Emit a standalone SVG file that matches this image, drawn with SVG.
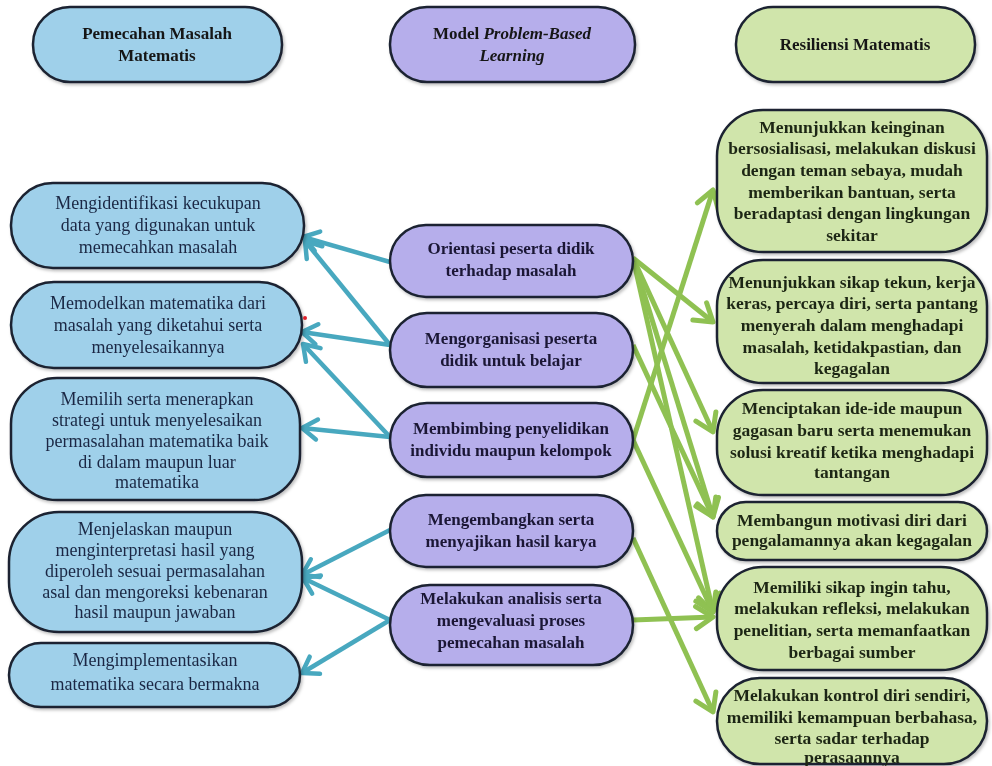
<svg xmlns="http://www.w3.org/2000/svg" width="992" height="766" viewBox="0 0 992 766">
<style>
.bl{fill:#9fd0ea;stroke:#1b2430;stroke-width:2.5}
.pu{fill:#b6aeeb;stroke:#1b2430;stroke-width:2.5}
.gr{fill:#d0e5ab;stroke:#1b2430;stroke-width:2.5}
text{font-family:"Liberation Serif","Times New Roman",serif;text-anchor:middle}
.h{font-size:17px;font-weight:bold;fill:#151515}
.tl{font-size:18px;fill:#1a2844}
.tm{font-size:17px;font-weight:bold;fill:#1a1836}
.tr{font-size:17.5px;font-weight:bold;fill:#1d2612}
.cb{fill:none;stroke:#48a8bf;stroke-width:4.5}
.cg{fill:none;stroke:#8fc152;stroke-width:5}
</style>
<defs>
<filter id="sh" x="-5%" y="-5%" width="112%" height="120%"><feDropShadow dx="1.5" dy="2" stdDeviation="1.5" flood-color="#000" flood-opacity="0.25"/></filter>
<marker id="ab" viewBox="-20 -14 24 28" refX="0" refY="0" markerWidth="24" markerHeight="28" markerUnits="userSpaceOnUse" orient="auto" overflow="visible"><path d="M-15,-10 L0,0 L-15,10" fill="none" stroke="#48a8bf" stroke-width="4.5" stroke-linecap="round" stroke-linejoin="round"/></marker>
<marker id="ag" viewBox="-20 -14 24 28" refX="0" refY="0" markerWidth="24" markerHeight="28" markerUnits="userSpaceOnUse" orient="auto" overflow="visible"><path d="M-17,-11 L0,0 L-17,11" fill="none" stroke="#8fc152" stroke-width="5" stroke-linecap="round" stroke-linejoin="round"/></marker>
</defs>

<g id="h-pemecahan" filter="url(#sh)"><rect class="bl" x="33" y="7" width="249" height="75" rx="37" ry="37"/>
<text class="h"><tspan x="157" y="39">Pemecahan Masalah</tspan><tspan x="157" y="61">Matematis</tspan></text></g>
<g id="h-pbl" filter="url(#sh)"><rect class="pu" x="390" y="7" width="245" height="75" rx="37" ry="37"/>
<text class="h"><tspan x="512" y="39">Model <tspan font-style="italic">Problem-Based</tspan></tspan><tspan x="512" y="61" font-style="italic">Learning</tspan></text></g>
<g id="h-resiliensi" filter="url(#sh)"><rect class="gr" x="736" y="7" width="239" height="75" rx="37" ry="37"/>
<text class="h"><tspan x="855" y="50">Resiliensi Matematis</tspan></text></g>

<g id="connectors">
<line class="cb" x1="390" y1="262" x2="303" y2="237" marker-end="url(#ab)"/>
<line class="cb" x1="390" y1="345" x2="305" y2="241" marker-end="url(#ab)"/>
<line class="cb" x1="390" y1="345" x2="302" y2="332" marker-end="url(#ab)"/>
<line class="cb" x1="390" y1="437" x2="303" y2="344" marker-end="url(#ab)"/>
<line class="cb" x1="390" y1="437" x2="302" y2="428" marker-end="url(#ab)"/>
<line class="cb" x1="390" y1="530" x2="302" y2="575" marker-end="url(#ab)"/>
<line class="cb" x1="390" y1="620" x2="303" y2="578" marker-end="url(#ab)"/>
<line class="cb" x1="390" y1="620" x2="302" y2="673" marker-end="url(#ab)"/>
<line class="cg" x1="633" y1="258" x2="713" y2="322" marker-end="url(#ag)"/>
<line class="cg" x1="633" y1="258" x2="713" y2="432" marker-end="url(#ag)"/>
<line class="cg" x1="633" y1="258" x2="713" y2="517" marker-end="url(#ag)"/>
<line class="cg" x1="633" y1="258" x2="713" y2="612" marker-end="url(#ag)"/>
<line class="cg" x1="633" y1="345" x2="713" y2="517" marker-end="url(#ag)"/>
<line class="cg" x1="633" y1="440" x2="713" y2="190" marker-end="url(#ag)"/>
<line class="cg" x1="633" y1="440" x2="713" y2="612" marker-end="url(#ag)"/>
<line class="cg" x1="633" y1="538" x2="713" y2="712" marker-end="url(#ag)"/>
<line class="cg" x1="633" y1="620" x2="713" y2="617" marker-end="url(#ag)"/>
</g>

<g id="l1" filter="url(#sh)"><rect class="bl" x="11" y="183" width="293" height="85" rx="42" ry="42"/>
<text class="tl"><tspan x="158" y="209">Mengidentifikasi kecukupan</tspan><tspan x="158" y="231">data yang digunakan untuk</tspan><tspan x="158" y="253">memecahkan masalah</tspan></text></g>
<g id="l2" filter="url(#sh)"><rect class="bl" x="11" y="282" width="291" height="86" rx="43" ry="43"/>
<text class="tl"><tspan x="158" y="309">Memodelkan matematika dari</tspan><tspan x="158" y="331">masalah yang diketahui serta</tspan><tspan x="158" y="353">menyelesaikannya</tspan></text></g>
<g id="l3" filter="url(#sh)"><rect class="bl" x="11" y="378" width="289" height="122" rx="46" ry="46"/>
<text class="tl"><tspan x="157" y="405">Memilih serta menerapkan</tspan><tspan x="157" y="426">strategi untuk menyelesaikan</tspan><tspan x="157" y="447">permasalahan matematika baik</tspan><tspan x="157" y="468">di dalam maupun luar</tspan><tspan x="157" y="488">matematika</tspan></text></g>
<g id="l4" filter="url(#sh)"><rect class="bl" x="9" y="512" width="293" height="120" rx="50" ry="50"/>
<text class="tl"><tspan x="155" y="535">Menjelaskan maupun</tspan><tspan x="155" y="556">menginterpretasi hasil yang</tspan><tspan x="155" y="577">diperoleh sesuai permasalahan</tspan><tspan x="155" y="598">asal dan mengoreksi kebenaran</tspan><tspan x="155" y="618">hasil maupun jawaban</tspan></text></g>
<g id="l5" filter="url(#sh)"><rect class="bl" x="9" y="643" width="291" height="64" rx="32" ry="32"/>
<text class="tl"><tspan x="155" y="666">Mengimplementasikan</tspan><tspan x="155" y="690">matematika secara bermakna</tspan></text></g>

<g id="m1" filter="url(#sh)"><rect class="pu" x="390" y="225" width="243" height="72" rx="36" ry="36"/>
<text class="tm"><tspan x="511" y="254">Orientasi peserta didik</tspan><tspan x="511" y="276">terhadap masalah</tspan></text></g>
<g id="m2" filter="url(#sh)"><rect class="pu" x="390" y="313" width="243" height="74" rx="37" ry="37"/>
<text class="tm"><tspan x="511" y="344">Mengorganisasi peserta</tspan><tspan x="511" y="366">didik untuk belajar</tspan></text></g>
<g id="m3" filter="url(#sh)"><rect class="pu" x="390" y="403" width="243" height="74" rx="37" ry="37"/>
<text class="tm"><tspan x="511" y="434">Membimbing penyelidikan</tspan><tspan x="511" y="456">individu maupun kelompok</tspan></text></g>
<g id="m4" filter="url(#sh)"><rect class="pu" x="390" y="495" width="243" height="72" rx="36" ry="36"/>
<text class="tm"><tspan x="511" y="525">Mengembangkan serta</tspan><tspan x="511" y="547">menyajikan hasil karya</tspan></text></g>
<g id="m5" filter="url(#sh)"><rect class="pu" x="390" y="585" width="243" height="80" rx="40" ry="40"/>
<text class="tm"><tspan x="511" y="604">Melakukan analisis serta</tspan><tspan x="511" y="626">mengevaluasi proses</tspan><tspan x="511" y="648">pemecahan masalah</tspan></text></g>

<g id="r1" filter="url(#sh)"><rect class="gr" x="717" y="110" width="270" height="142" rx="46" ry="46"/>
<text class="tr"><tspan x="852" y="133">Menunjukkan keinginan</tspan><tspan x="852" y="154">bersosialisasi, melakukan diskusi</tspan><tspan x="852" y="176">dengan teman sebaya, mudah</tspan><tspan x="852" y="198">memberikan bantuan, serta</tspan><tspan x="852" y="219">beradaptasi dengan lingkungan</tspan><tspan x="852" y="241">sekitar</tspan></text></g>
<g id="r2" filter="url(#sh)"><rect class="gr" x="717" y="260" width="270" height="123" rx="46" ry="46"/>
<text class="tr"><tspan x="852" y="288">Menunjukkan sikap tekun, kerja</tspan><tspan x="852" y="309">keras, percaya diri, serta pantang</tspan><tspan x="852" y="331">menyerah dalam menghadapi</tspan><tspan x="852" y="353">masalah, ketidakpastian, dan</tspan><tspan x="852" y="374">kegagalan</tspan></text></g>
<g id="r3" filter="url(#sh)"><rect class="gr" x="717" y="390" width="270" height="105" rx="46" ry="46"/>
<text class="tr"><tspan x="852" y="414">Menciptakan ide-ide maupun</tspan><tspan x="852" y="436">gagasan baru serta menemukan</tspan><tspan x="852" y="458">solusi kreatif ketika menghadapi</tspan><tspan x="852" y="478">tantangan</tspan></text></g>
<g id="r4" filter="url(#sh)"><rect class="gr" x="717" y="502" width="270" height="58" rx="29" ry="29"/>
<text class="tr"><tspan x="852" y="526">Membangun motivasi diri dari</tspan><tspan x="852" y="546">pengalamannya akan kegagalan</tspan></text></g>
<g id="r5" filter="url(#sh)"><rect class="gr" x="717" y="567" width="270" height="103" rx="46" ry="46"/>
<text class="tr"><tspan x="852" y="593">Memiliki sikap ingin tahu,</tspan><tspan x="852" y="614">melakukan refleksi, melakukan</tspan><tspan x="852" y="636">penelitian, serta memanfaatkan</tspan><tspan x="852" y="658">berbagai sumber</tspan></text></g>
<g id="r6" filter="url(#sh)"><rect class="gr" x="717" y="678" width="270" height="86" rx="43" ry="43"/>
<text class="tr"><tspan x="852" y="701">Melakukan kontrol diri sendiri,</tspan><tspan x="852" y="723">memiliki kemampuan berbahasa,</tspan><tspan x="852" y="744">serta sadar terhadap</tspan><tspan x="852" y="763">perasaannya</tspan></text></g>

<circle cx="305" cy="318" r="2" fill="#e0202a"/>
</svg>
